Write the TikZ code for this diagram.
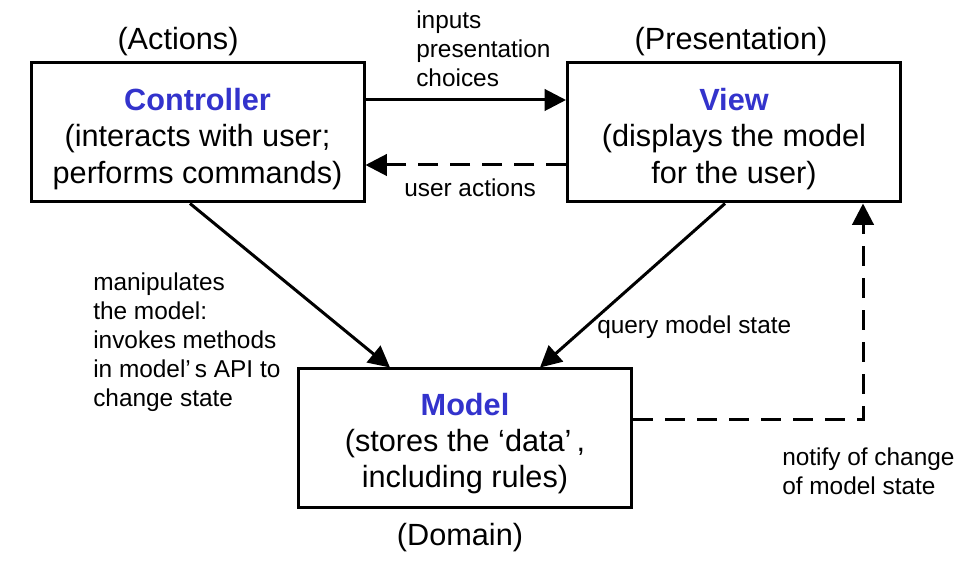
\documentclass[tikz,border=0pt]{standalone}
\usepackage{fontspec}
\setmainfont{Liberation Sans}
\usetikzlibrary{arrows.meta}
\definecolor{titleblue}{RGB}{51,51,204}
\begin{document}
\begin{tikzpicture}[x=0.75pt,y=-0.75pt,
  box/.style={draw, line width=2.25pt, minimum width=249.75pt, minimum height=104.25pt,
    inner sep=0pt},
  boxtext/.style={align=center, inner sep=0pt, font=\fontsize{23}{27.3}\selectfont},
  big/.style={font=\fontsize{23}{27}\selectfont, inner sep=0pt},
  small/.style={font=\fontsize{18.3}{21.75}\selectfont, align=left, inner sep=0pt},
  conn/.style={line width=2.25pt, -{Triangle[length=16pt,width=16pt]}},
  dconn/.style={conn, dash pattern=on 15pt off 9pt},
  ttl/.style={font=\bfseries, text=titleblue}]
\useasboundingbox (0,0) rectangle (964,580);
\node[box] (ctrl) at (197.5,132.5) {};
\node[box] (view) at (734,132.5) {};
\node[box] (model) at (465,438.5) {};
\node[boxtext] (ctrltext) at (197.5,139) {{\bfseries\color{titleblue}Controller}\\(interacts with user;\\performs commands)};
\node[boxtext] (viewtext) at (734,139) {{\bfseries\color{titleblue}View}\\(displays the model\\for the user)};
\node[boxtext] (modeltext) at (465,443.5) {{\bfseries\color{titleblue}Model}\\(stores the\ ‘data’\,,\\including rules)};
\node[big, anchor=base] (actions) at (178,50) {(Actions)};
\node[big, anchor=base] (pres) at (731,50) {(Presentation)};
\node[big, anchor=base] (domain) at (460,546) {(Domain)};
\node[small, anchor=north west] (inputs) at (416,10.5) {inputs\\presentation\\choices};
\node[small, anchor=base west] (ua) at (404,197) {user actions};
\node[small, anchor=north west] (manip) at (93,272.5) {manipulates\\the model:\\invokes methods\\in model’\,s API to\\change state};
\node[small, anchor=base west] (query) at (597,334) {query model state};
\node[small, anchor=north west] (notify) at (782,447.5) {notify of change\\of model state};
\coordinate (corner) at (863,420);
\draw[conn] (ctrl.east |- 0,100) -- (view.west |- 0,100);
\draw[dconn] (view.west |- 0,165) -- (ctrl.east |- 0,165);
\draw[conn] (190,0 |- ctrl.south) -- (390,0 |- model.north);
\draw[conn] (725,0 |- view.south) -- (540,0 |- model.north);
\draw[dconn] (model.east |- corner) -- (corner) -- (corner |- view.south);
\end{tikzpicture}
\end{document}
